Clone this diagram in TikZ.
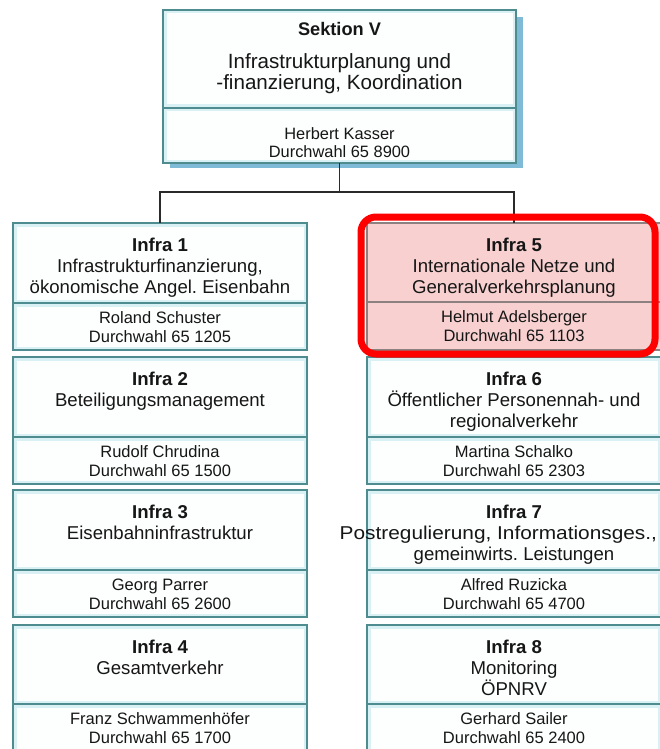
\documentclass[tikz,border=0pt]{standalone}
\usepackage{fontspec}
\usepackage{graphicx}
\setmainfont{Liberation Sans}
\frenchspacing
\definecolor{boxline}{HTML}{4F8C90}
\definecolor{boxglow}{HTML}{D9F1F5}
\definecolor{boxin}{HTML}{FDFEFE}
\definecolor{shadowblue}{HTML}{7FBBD6}
\definecolor{pinkfill}{HTML}{F8D0D0}
\definecolor{pinkline}{HTML}{8C8080}
\definecolor{txt}{HTML}{161616}
\definecolor{conncol}{HTML}{2A2A2A}
\tikzset{
  part/.style={rectangle, draw=boxline, line width=1.1pt, fill=boxglow,
    minimum width=294pt, inner sep=0pt, outer sep=0pt, anchor=north west,
    path picture={\fill[boxin] ([shift={(3.5pt,-3.5pt)}]path picture bounding box.north west)
      rectangle ([shift={(-3.5pt,3.5pt)}]path picture bounding box.south east);}},
  toppart/.style={part, minimum width=353pt},
  pinkpart/.style={rectangle, draw=pinkline, line width=1.1pt, fill=pinkfill,
    minimum width=294pt, inner sep=0pt, outer sep=0pt, anchor=north west},
  titletxt/.style={anchor=north, inner sep=0pt, align=center, text=txt,
    font=\fontsize{18.6}{21}\selectfont},
  persontxt/.style={anchor=north, inner sep=0pt, align=center, text=txt,
    font=\fontsize{16.5}{18.8}\selectfont},
  conn/.style={draw=conncol, line width=1.3pt},
  highlight/.style={draw=red, line width=7pt, rounded corners=15pt},
}
\newcommand\orgunit[8]{%
  \node[#2, minimum height={(#5-#4)*1pt}] (#1) at (#3,#4) {};
  \node[#2, minimum height={(#6-#5)*1pt}] (#1p) at (#3,#5) {};
  \node[titletxt] (#1t) at ([yshift=-14.5pt]#1.north) {#7};
  \node[persontxt] (#1n) at ([yshift=-8.5pt]#1p.north) {#8};
}
\begin{document}
\begin{tikzpicture}[x=1pt,y=-1pt]
\useasboundingbox (0,0) rectangle (659,749);
\fill[white] (0,0) rectangle (659,749);
% top box
\fill[shadowblue] (170,17) rectangle (523,168);
\node[toppart, minimum height=98pt] (sek) at (163,10) {};
\node[toppart, minimum height=55pt] (sekp) at (163,108) {};
\node[anchor=north, inner sep=0pt, text=txt, font=\fontsize{18.2}{20}\selectfont\bfseries]
  (sekt) at ([yshift=-11.7pt]sek.north) {Sektion V};
\node[anchor=north, inner sep=0pt, align=center, text=txt, font=\fontsize{20.6}{21}\selectfont]
  (sekd) at ([yshift=-43pt]sek.north) {Infrastrukturplanung und\\-finanzierung, Koordination};
\node[anchor=north, inner sep=0pt, align=center, text=txt, font=\fontsize{16.4}{18}\selectfont]
  (sekn) at ([yshift=-19.7pt]sekp.north) {Herbert Kasser\\Durchwahl 65 8900};
% units
\orgunit{i1}{part}{13}{223}{303}{350}{\textbf{Infra 1}\\Infrastrukturfinanzierung,\\ökonomische Angel. Eisenbahn}{Roland Schuster\\Durchwahl 65 1205}
\orgunit{i2}{part}{13}{357}{437}{484}{\textbf{Infra 2}\\Beteiligungsmanagement}{Rudolf Chrudina\\Durchwahl 65 1500}
\orgunit{i3}{part}{13}{490}{570}{617}{\textbf{Infra 3}\\Eisenbahninfrastruktur}{Georg Parrer\\Durchwahl 65 2600}
\orgunit{i4}{part}{13}{625}{704}{760}{\textbf{Infra 4}\\Gesamtverkehr}{Franz Schwammenhöfer\\Durchwahl 65 1700}
\orgunit{i6}{part}{367}{357}{437}{484}{\textbf{Infra 6}\\Öffentlicher Personennah- und\\regionalverkehr}{Martina Schalko\\Durchwahl 65 2303}
\orgunit{i7}{part}{367}{490}{570}{617}{\textbf{Infra 7}\\\makebox[294pt][r]{\scalebox{1.12}[1]{Postregulierung, Informationsges.,}\hspace{4pt}}\\gemeinwirts. Leistungen}{Alfred Ruzicka\\Durchwahl 65 4700}
\orgunit{i8}{part}{367}{625}{704}{760}{\textbf{Infra 8}\\Monitoring\\ÖPNRV}{Gerhard Sailer\\Durchwahl 65 2400}
% highlighted unit
\orgunit{i5}{pinkpart}{367}{223}{302}{350}{\textbf{Infra 5}\\Internationale Netze und\\Generalverkehrsplanung}{Helmut Adelsberger\\Durchwahl 65 1103}
% connectors
\draw[conn] (sekp.south) -- ++(0,29) -| (i1.north);
\draw[conn] (sekp.south) -- ++(0,29) -| (i5.north);
\draw[highlight] (361,217) rectangle (655,354);
\end{tikzpicture}
\end{document}
